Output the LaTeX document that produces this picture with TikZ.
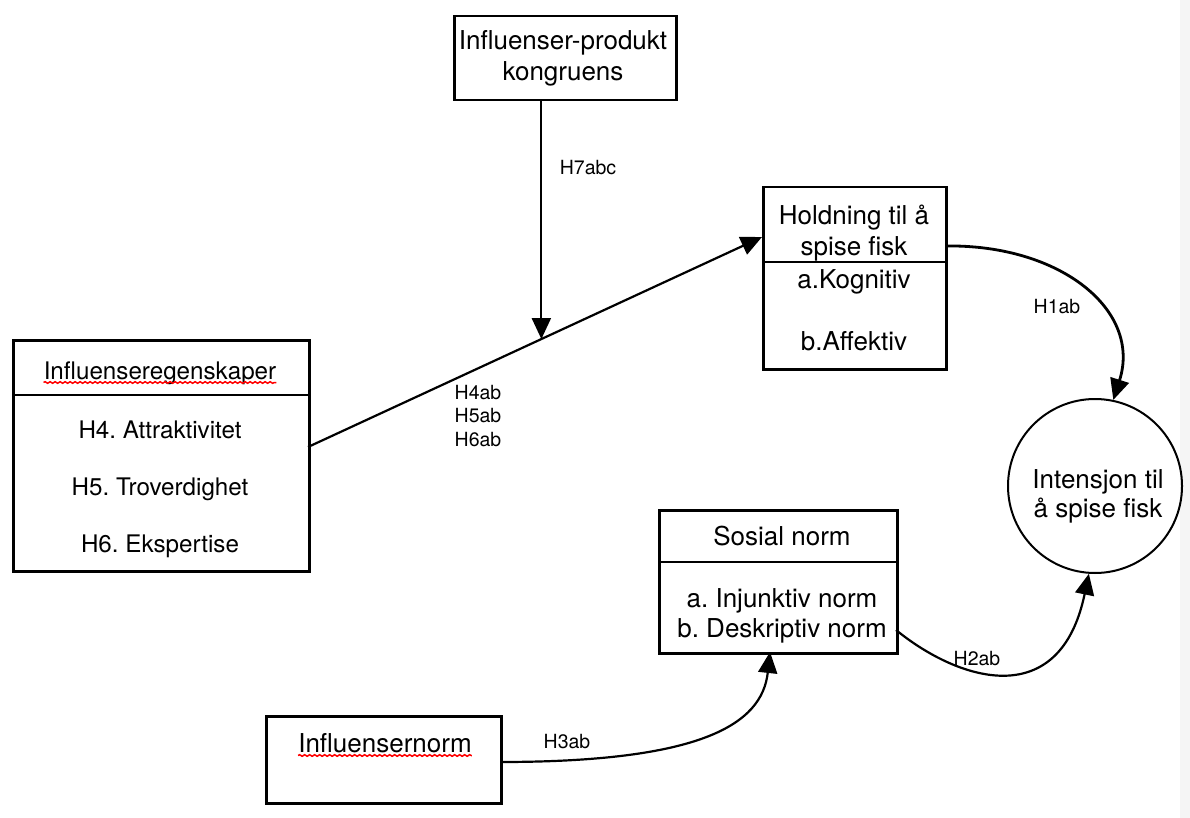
\documentclass[tikz,border=0pt]{standalone}
\usepackage{fontspec}
\setmainfont{TeX Gyre Heros}
\frenchspacing
\usetikzlibrary{arrows.meta,decorations.pathmorphing,calc}
\begin{document}
\begin{tikzpicture}[x=1pt,y=-1pt,
 box/.style={draw, line width=2.5pt, rectangle, inner sep=0pt, anchor=north west},
 txt/.style={font=\fontsize{26}{30}\selectfont, inner sep=0pt, anchor=base},
 txtl/.style={font=\fontsize{24.2}{30}\selectfont, inner sep=0pt, anchor=base},
 lab/.style={font=\fontsize{19.5}{23.5}\selectfont, inner sep=0pt},
 arr/.style={line width=2.2pt, -{Triangle[length=21pt,width=19pt]}},
 divider/.style={line width=2.4pt},
 squiggle/.style={red, line width=1.5pt, decorate, decoration={snake, amplitude=0.8pt, segment length=5pt}}]

\useasboundingbox (0,0) rectangle (1190,818);
\fill[white] (0,0) rectangle (1190,818);
\fill[gray!8] (1180,0) rectangle (1190,818);

% Boxes
\node[box, minimum width=222pt, minimum height=84pt] (kong) at (453,15) {};
\node[box, minimum width=296pt, minimum height=231pt] (infl) at (12,339) {};
\node[box, minimum width=183pt, minimum height=182pt] (hold) at (762,186) {};
\node[box, minimum width=238pt, minimum height=143pt] (sos) at (658,509) {};
\node[box, minimum width=235pt, minimum height=87pt] (inorm) at (265,715) {};
\node[draw, circle, line width=2pt, minimum size=174pt, inner sep=0pt] (circ) at (1095,486) {};

% Dividers
\coordinate (dvI) at (0,395);
\coordinate (dvH) at (0,262);
\coordinate (dvS) at (0,562);
\draw[divider] (infl.west |- dvI) -- (infl.east |- dvI);
\draw[divider] (hold.west |- dvH) -- (hold.east |- dvH);
\draw[divider] (sos.west |- dvS) -- (sos.east |- dvS);

% Texts
\node[txt] (k1) at (563,50) {Influenser-produkt};
\node[txt] (k2) at (563,81) {kongruens};
\node[txtl] (i0) at (160,379) {Influenseregenskaper};
\node[txtl] (i1) at (160,438) {H4. Attraktivitet};
\node[txtl] (i2) at (160,495) {H5. Troverdighet};
\node[txtl] (i3) at (160,552) {H6. Ekspertise};
\node[txt] (h1) at (854,225) {Holdning til å};
\node[txt] (h2) at (854,255) {spise fisk};
\node[txt] (h3) at (854,288) {a.Kognitiv};
\node[txt] (h4) at (854,350) {b.Affektiv};
\node[txt] (c1) at (1098,488) {Intensjon til};
\node[txt] (c2) at (1098,517) {å spise fisk};
\node[txt] (s1) at (782,545) {Sosial norm};
\node[txt] (s2) at (782,607) {a. Injunktiv norm};
\node[txt] (s3) at (782,637) {b. Deskriptiv norm};
\node[txt] (n1) at (385,752) {Influensernorm};

% red spell-check underlines
\draw[squiggle] ([yshift=-3.5pt]i0.base west) -- ([yshift=-3.5pt]i0.base east);
\draw[squiggle] ([yshift=-3.5pt]n1.base west) -- ([yshift=-3.5pt]n1.base east);

% Connectors
\coordinate (d1) at (308,447);
\coordinate (d2) at (762,237);
\coordinate (dm) at ($(d1)!0.514!(d2)$);
\draw[arr] (d1) -- (d2);
\draw[arr] (kong.south -| dm) -- (dm);

\coordinate (p1) at (945,246);
\draw[arr, line width=2.8pt] (p1) .. controls (1060,244) and (1142,310) .. (circ.78);

\coordinate (p2) at (896,630);
\draw[arr] (p2) .. controls (960,682) and (1060,712) .. (circ.266);

\coordinate (p3) at (500,762);
\coordinate (p4) at (770,652);
\draw[arr] (p3) .. controls (700,762) and (762,725) .. (p4);

% Labels
\node[lab] (l7) at (588,168) {H7abc};
\node[lab, align=left] (l4) at (478,416) {H4ab\\H5ab\\H6ab};
\node[lab] (l1) at (1057,307) {H1ab};
\node[lab] (l2) at (977,659) {H2ab};
\node[lab] (l3) at (567,742) {H3ab};
\end{tikzpicture}
\end{document}
